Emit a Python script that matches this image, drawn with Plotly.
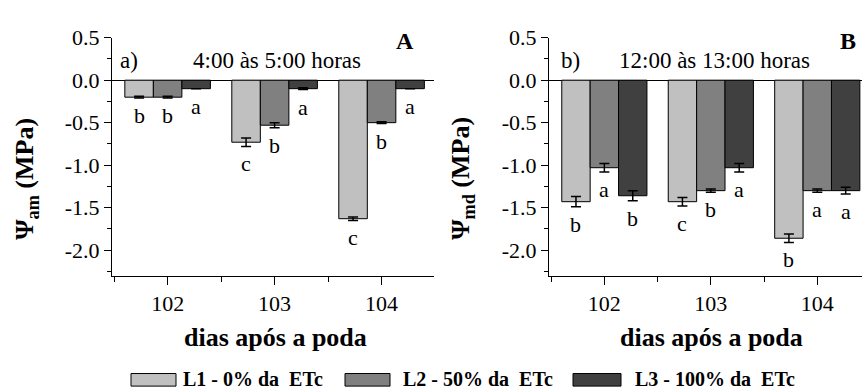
import plotly.graph_objects as go

# ---------------- data ----------------
days = [102, 103, 104]
series_names = ["L1 - 0% da\u00a0 ETc", "L2 - 50% da\u00a0 ETc", "L3 - 100% da\u00a0 ETc"]
colors = ["#c0c0c0", "#808080", "#404040"]

# Panel A: 4:00 - 5:00 (psi am)
a_L1 = [-0.20, -0.73, -1.63]
a_L2 = [-0.20, -0.53, -0.50]
a_L3 = [-0.10, -0.10, -0.10]
a_L1_err = [0.01, 0.05, 0.02]
a_L2_err = [0.01, 0.03, 0.01]
a_L3_err = [0.0, 0.01, 0.0]
a_L1_let = ["b", "c", "c"]
a_L2_let = ["b", "b", "b"]
a_L3_let = ["a", "a", "a"]

# Panel B: 12:00 - 13:00 (psi md)
b_L1 = [-1.43, -1.43, -1.86]
b_L2 = [-1.03, -1.30, -1.30]
b_L3 = [-1.36, -1.03, -1.30]
b_L1_err = [0.06, 0.05, 0.05]
b_L2_err = [0.05, 0.02, 0.02]
b_L3_err = [0.06, 0.05, 0.04]
b_L1_let = ["b", "c", "b"]
b_L2_let = ["a", "b", "a"]
b_L3_let = ["b", "a", "a"]

y_ticks = [0.5, 0.0, -0.5, -1.0, -1.5, -2.0]
y_tick_text = ["0.5", "0.0", "-0.5", "-1.0", "-1.5", "-2.0"]

panels = [
    dict(vals=[a_L1, a_L2, a_L3], errs=[a_L1_err, a_L2_err, a_L3_err],
         lets=[a_L1_let, a_L2_let, a_L3_let], xa="x", ya="y",
         tag="a)", title="4:00 às 5:00 horas", letter="A",
         ytitle="<b>Ψ<sub>am</sub> (MPa)</b>"),
    dict(vals=[b_L1, b_L2, b_L3], errs=[b_L1_err, b_L2_err, b_L3_err],
         lets=[b_L1_let, b_L2_let, b_L3_let], xa="x2", ya="y2",
         tag="b)", title="12:00 às 13:00 horas", letter="B",
         ytitle="<b>Ψ<sub>md</sub> (MPa)</b>"),
]

W, H = 862, 390
FONT = "Liberation Serif"

fig = go.Figure()
annotations = []
shapes = []

bargap = 0.2
bw = (1 - bargap) / 3
offsets = [-bw, 0.0, bw]

for p in panels:
    for i in range(3):
        fig.add_trace(go.Bar(
            x=days, y=p["vals"][i], name=series_names[i],
            marker=dict(color=colors[i], line=dict(color="black", width=1)),
            error_y=dict(type="data", array=p["errs"][i], visible=True,
                         color="black", thickness=1.5, width=5),
            xaxis=p["xa"], yaxis=p["ya"], showlegend=False,
        ))
        for d, v, e, l in zip(days, p["vals"][i], p["errs"][i], p["lets"][i]):
            annotations.append(dict(
                x=d + offsets[i], y=v - e, xref=p["xa"], yref=p["ya"],
                text=l, showarrow=False, yanchor="top", yshift=-3,
                font=dict(family=FONT, size=22, color="black")))

# domains (pixels -> paper)
xA = [112 / W, 434 / W]
xB = [549 / W, 1.0]
yD = [1 - 272 / H, 1 - 26.5 / H]

axis_common = dict(showline=True, linecolor="black", linewidth=1, ticks="outside",
                   tickcolor="black", showgrid=False,
                   tickfont=dict(family=FONT, size=22, color="black"))

fig.update_layout(
    width=W, height=H, margin=dict(l=0, r=0, t=0, b=0),
    paper_bgcolor="white", plot_bgcolor="white",
    barmode="group", bargap=bargap, bargroupgap=0,
    font=dict(family=FONT, color="black"),
    xaxis=dict(domain=xA, range=[101.48, 104.49], anchor="y",
               tickmode="array", tickvals=days, ticklen=8,
               minor=dict(tickvals=[101.5, 102.5, 103.5], ticklen=5, ticks="outside",
                          tickcolor="black"),
               zeroline=False, **axis_common),
    xaxis2=dict(domain=xB, range=[101.48, 104.42], anchor="y2",
                tickmode="array", tickvals=days, ticklen=8,
                minor=dict(tickvals=[101.5, 102.5, 103.5], ticklen=5, ticks="outside",
                           tickcolor="black"),
                zeroline=False, **axis_common),
    yaxis=dict(domain=yD, range=[-2.3, 0.5], anchor="x",
               tickmode="array", tickvals=y_ticks, ticktext=y_tick_text, ticklen=7,
               minor=dict(dtick=0.25, ticklen=4, ticks="outside", tickcolor="black"),
               zeroline=True, zerolinecolor="black", zerolinewidth=1, **axis_common),
    yaxis2=dict(domain=yD, range=[-2.3, 0.5], anchor="x2",
                tickmode="array", tickvals=y_ticks, ticktext=y_tick_text, ticklen=7,
                minor=dict(dtick=0.25, ticklen=4, ticks="outside", tickcolor="black"),
                zeroline=True, zerolinecolor="black", zerolinewidth=1, **axis_common),
)

# panel texts
panel_pos = [
    dict(tagx=0.018, titlex=0.512, letx=0.91, ytx=26 / W, xtx=275 / W),
    dict(tagx=0.032, titlex=0.53, letx=0.955, ytx=462 / W, xtx=711 / W),
]
for p, pp in zip(panels, panel_pos):
    xd = p["xa"] + " domain"
    yd = p["ya"] + " domain"
    annotations.append(dict(x=pp["tagx"], y=0.904, xref=xd, yref=yd, text=p["tag"],
                            showarrow=False, xanchor="left", yanchor="middle",
                            font=dict(family=FONT, size=23, color="black")))
    annotations.append(dict(x=pp["titlex"], y=0.904, xref=xd, yref=yd, text=p["title"],
                            showarrow=False, xanchor="center", yanchor="middle",
                            font=dict(family=FONT, size=23, color="black")))
    annotations.append(dict(x=pp["letx"], y=0.986, xref=xd, yref=yd,
                            text="<b>" + p["letter"] + "</b>",
                            showarrow=False, xanchor="center", yanchor="middle",
                            font=dict(family=FONT, size=24, color="black")))
    annotations.append(dict(x=pp["ytx"], y=1 - 172 / H, xref="paper", yref="paper",
                            text=p["ytitle"], textangle=-90, showarrow=False,
                            xanchor="center", yanchor="middle",
                            font=dict(family=FONT, size=26, color="black")))
    annotations.append(dict(x=pp["xtx"], y=1 - 336 / H, xref="paper", yref="paper",
                            text="<b>dias após a poda</b>", showarrow=False,
                            xanchor="center", yanchor="middle",
                            font=dict(family=FONT, size=26, color="black")))

# manual legend (wide swatches)
sw_x = [131, 345, 573]
sw_w = [45, 45, 48]
txt_x = [181, 401, 633]
for i in range(3):
    shapes.append(dict(type="rect", xref="paper", yref="paper",
                       x0=sw_x[i] / W, x1=(sw_x[i] + sw_w[i]) / W,
                       y0=1 - 386 / H, y1=1 - 373 / H,
                       fillcolor=colors[i], line=dict(color="black", width=1)))
    annotations.append(dict(x=txt_x[i] / W, y=1 - 378.5 / H, xref="paper", yref="paper",
                            text="<b>" + series_names[i] + "</b>", showarrow=False,
                            xanchor="left", yanchor="middle",
                            font=dict(family=FONT, size=20, color="black")))

fig.update_layout(annotations=annotations, shapes=shapes)
fig.write_html("out.html", config={"displayModeBar": False},
               post_script="document.body.style.margin='0';document.body.style.overflow='hidden';")
